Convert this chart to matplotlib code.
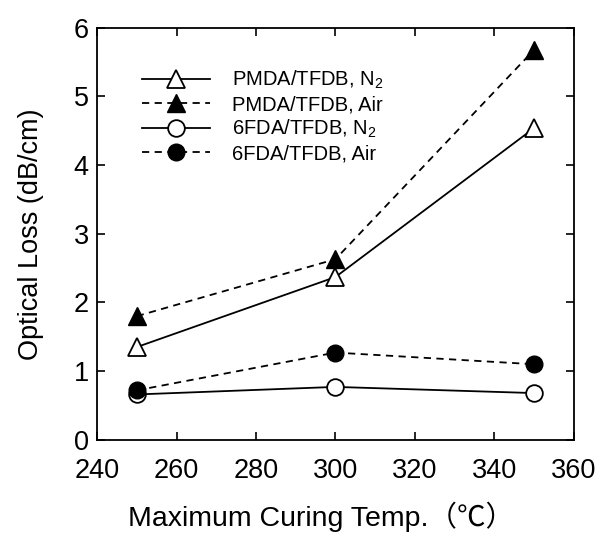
import matplotlib
matplotlib.use("Agg")
import matplotlib.pyplot as plt

temps = [250, 300, 350]
pmda_n2 = [1.35, 2.37, 4.54]
pmda_air = [1.80, 2.63, 5.68]
fda_n2 = [0.66, 0.77, 0.68]
fda_air = [0.72, 1.27, 1.10]
labels = ["PMDA/TFDB, N$_2$", "PMDA/TFDB, Air", "6FDA/TFDB, N$_2$", "6FDA/TFDB, Air"]
xticks = [240, 260, 280, 300, 320, 340, 360]
yticks = [0, 1, 2, 3, 4, 5, 6]

plt.rcParams['font.family'] = ['Liberation Sans', 'Noto Sans CJK JP', 'DejaVu Sans']
plt.rcParams['mathtext.fontset'] = 'custom'
plt.rcParams['mathtext.rm'] = 'Liberation Sans'

fig = plt.figure(figsize=(5.99, 5.35), dpi=100)
ax = fig.add_axes([0.162, 0.178, 0.796, 0.770])

lw = 1.3
ax.plot(temps, pmda_n2, '-', color='black', lw=lw, marker='^', ms=13, mfc='white', mec='black', mew=1.3, label=labels[0])
ax.plot(temps, pmda_air, '--', color='black', lw=lw, marker='^', ms=13, mfc='black', mec='black', label=labels[1], dashes=(4, 3))
ax.plot(temps, fda_n2, '-', color='black', lw=lw, marker='o', ms=12, mfc='white', mec='black', mew=1.3, label=labels[2])
ax.plot(temps, fda_air, '--', color='black', lw=lw, marker='o', ms=12, mfc='black', mec='black', label=labels[3], dashes=(4, 3))

ax.set_xlim(240, 360)
ax.set_ylim(0, 6)
ax.set_xticks(xticks)
ax.set_yticks(yticks)
ax.tick_params(direction='in', top=True, right=True, length=6, width=1.2, labelsize=19.5)
ax.tick_params(axis='x', pad=13)
ax.tick_params(axis='y', pad=6)
for s in ax.spines.values():
    s.set_linewidth(1.3)

ax.set_xlabel("Maximum Curing Temp.（℃）", fontsize=20.5, labelpad=12)
ax.xaxis.set_label_coords(0.47, -0.15)
ax.set_ylabel("Optical Loss (dB/cm)", fontsize=19.5, labelpad=21)

leg = ax.legend(loc='upper left', bbox_to_anchor=(0.077, 0.92), frameon=False, fontsize=14.5,
                handlelength=3.4, handletextpad=1.1, labelspacing=0.2, borderaxespad=0)

fig.savefig("out.png", dpi=100)
